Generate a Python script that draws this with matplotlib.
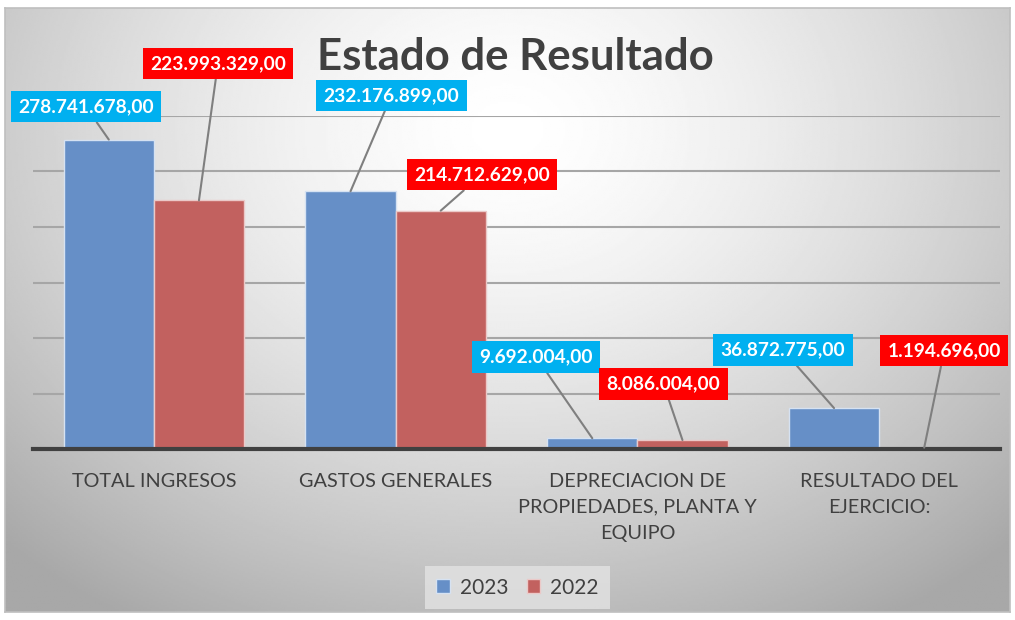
import numpy as np
import matplotlib.pyplot as plt

# Datos del estado de resultado
categorias = ['TOTAL INGRESOS', 'GASTOS GENERALES',
              'DEPRECIACION DE\nPROPIEDADES, PLANTA Y\nEQUIPO',
              'RESULTADO DEL\nEJERCICIO:']
valores_2023 = [278741678, 232176899, 9692004, 36872775]
valores_2022 = [223993329, 214712629, 8086004, 1194696]
series = ['2023', '2022']

# Posición de cada etiqueta respecto al tope de su barra (pixeles)
offsets_2023 = [(-23, 33), (41, 96), (-56, 81), (-51, 58)]
offsets_2022 = [(19, 137), (41, 36), (-19, 56), (20, 97)]

azul = '#668FC7'
rojo = '#C2615F'
caja_azul = '#00B0F0'
caja_roja = '#FF0000'
gris_texto = '#404040'

plt.rcParams['font.family'] = ['Lato', 'DejaVu Sans']


def formato(v):
    # Formato con punto de miles y coma decimal
    return f'{v:,.2f}'.replace(',', '#').replace('.', ',').replace('#', '.')


fig = plt.figure(figsize=(10.15, 6.2), dpi=100)

# Fondo con degradado radial
bg = fig.add_axes([5 / 1015, 8 / 620, 1005 / 1015, 604 / 620])
yy, xx = np.mgrid[0:1:300j, 0:1:500j]
r = np.sqrt(((xx - 0.5) / 0.72) ** 2 + ((yy - 0.2) / 0.95) ** 2)
grad = 1.0 - 0.34 * np.clip(r, 0, 1) ** 1.5
bg.imshow(grad, cmap='gray', vmin=0, vmax=1, aspect='auto', extent=(0, 1, 1, 0))
bg.set_xticks([])
bg.set_yticks([])
for s in bg.spines.values():
    s.set_color('#BFBFBF')
    s.set_linewidth(1.2)

ax = fig.add_axes([33 / 1015, (620 - 449) / 620, 967 / 1015, 333 / 620])
ax.patch.set_alpha(0)

x = np.arange(len(categorias))
ancho = 0.373
b1 = ax.bar(x - ancho / 2, valores_2023, ancho, color=azul, edgecolor='#D6E2F2',
            linewidth=1, label=series[0], zorder=3)
b2 = ax.bar(x + ancho / 2, valores_2022, ancho, color=rojo, edgecolor='#EBC9C8',
            linewidth=1, label=series[1], zorder=3)

ax.set_xlim(-0.5, len(categorias) - 0.5)
ax.set_ylim(0, 300000000)
ax.set_yticks(np.arange(50000000, 300000001, 50000000))
ax.yaxis.grid(True, color='#A6A6A6', linewidth=1.5, zorder=0)
ax.tick_params(axis='y', length=0, labelleft=False)
ax.tick_params(axis='x', length=0, pad=17)
ax.set_xticks(x)
ax.set_xticklabels(categorias, fontsize=14.3, color=gris_texto, linespacing=1.65,
                   va='top')
for lado in ['left', 'right', 'top']:
    ax.spines[lado].set_visible(False)
ax.spines['bottom'].set_color('#404040')
ax.spines['bottom'].set_linewidth(3)
ax.spines['bottom'].set_zorder(4)

# Etiquetas de datos con líneas guía
for barras, valores, offs, color in [(b1, valores_2023, offsets_2023, caja_azul),
                                     (b2, valores_2022, offsets_2022, caja_roja)]:
    for barra, v, off in zip(barras, valores, offs):
        cx = barra.get_x() + barra.get_width() / 2
        ax.annotate(formato(v), xy=(cx, v), xytext=off, textcoords='offset pixels',
                    ha='center', va='center', fontsize=13.8, fontweight='bold',
                    color='white', zorder=6, annotation_clip=False,
                    bbox=dict(boxstyle='square,pad=0.38', fc=color, ec='none'),
                    arrowprops=dict(arrowstyle='-', color='#7F7F7F', lw=1.5,
                                    shrinkA=0, shrinkB=0))

fig.text(0.508, 0.908, 'Estado de Resultado', ha='center', va='center',
         fontsize=31.5, fontweight='bold', color=gris_texto)

leg = fig.legend(loc='center', bbox_to_anchor=(0.51, 0.052), ncol=2,
                 fontsize=15, frameon=True, fancybox=False, handlelength=0.65,
                 handleheight=0.65, columnspacing=0.85, handletextpad=0.5,
                 borderpad=0.55, borderaxespad=0)
leg.get_frame().set_facecolor('#E3E3E3')
leg.get_frame().set_edgecolor('none')
for t in leg.get_texts():
    t.set_color(gris_texto)

fig.savefig('out.png', dpi=100)
